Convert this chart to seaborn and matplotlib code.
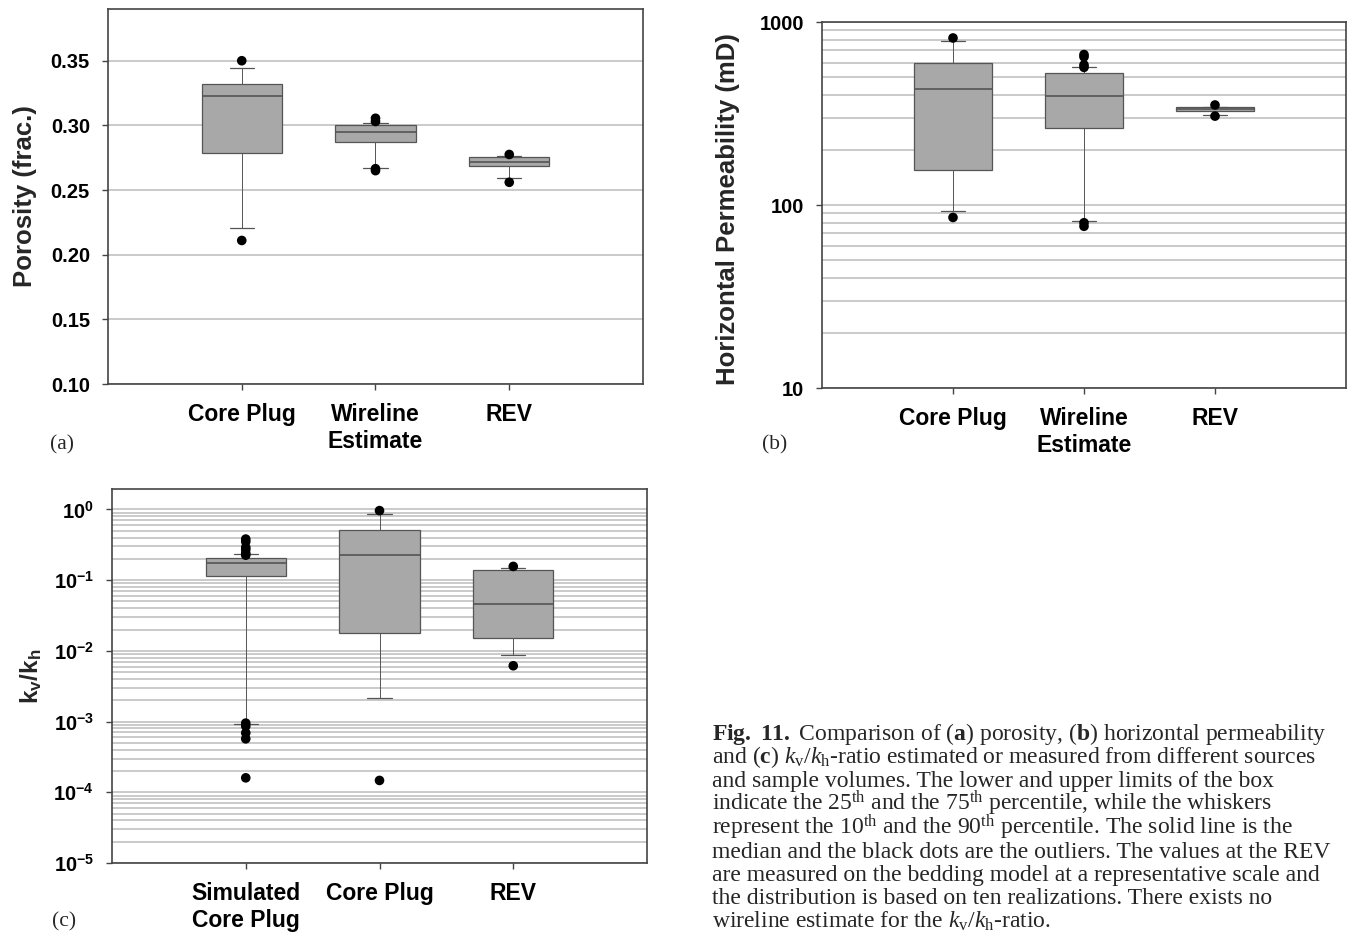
import numpy as np
import pandas as pd
import matplotlib
matplotlib.use("Agg")
import matplotlib.pyplot as plt
import matplotlib.ticker as mticker
import seaborn as sns

sns.set_theme(style="white")
plt.rcParams["font.family"] = ["Liberation Sans", "DejaVu Sans"]
plt.rcParams["font.weight"] = "bold"
plt.rcParams["axes.labelweight"] = "bold"
plt.rcParams["mathtext.fontset"] = "custom"
plt.rcParams["mathtext.rm"] = "Liberation Serif:weight=normal"
plt.rcParams["mathtext.it"] = "Liberation Serif:style=italic:weight=normal"
plt.rcParams["mathtext.bf"] = "Liberation Serif:weight=bold"
plt.rcParams["mathtext.sf"] = "Liberation Sans:weight=bold"

# ------------------------------------------------------------------
# Data: 10th / 25th / 50th / 75th / 90th pct + outliers
# ------------------------------------------------------------------
por_groups = ["Core Plug", "Wireline\nEstimate", "REV"]
por_p10 = [0.221, 0.267, 0.259]
por_p25 = [0.279, 0.2875, 0.2685]
por_med = [0.323, 0.295, 0.272]
por_p75 = [0.332, 0.3005, 0.2755]
por_p90 = [0.3445, 0.302, 0.276]
por_out = [[0.350, 0.211], [0.3055, 0.303, 0.2665, 0.265], [0.2775, 0.256]]

perm_groups = ["Core Plug", "Wireline\nEstimate", "REV"]
perm_p10 = [92.7, 81.3, 310]
perm_p25 = [155, 264, 326]
perm_med = [433, 395, 334]
perm_p75 = [600, 527, 343]
perm_p90 = [791, 571, 345]
perm_out = [[818, 85.5], [664, 645, 583, 565, 80, 76.5], [352, 306]]

kvkh_groups = ["Simulated\nCore Plug", "Core Plug", "REV"]
kvkh_p10 = [9.2e-4, 2.13e-3, 8.8e-3]
kvkh_p25 = [0.116, 0.018, 0.015]
kvkh_med = [0.175, 0.224, 0.046]
kvkh_p75 = [0.208, 0.516, 0.138]
kvkh_p90 = [0.237, 0.87, 0.149]
kvkh_out = [[0.38, 0.35, 0.29, 0.27, 0.24, 0.225, 9.5e-4, 8.6e-4, 6.9e-4, 5.7e-4, 1.6e-4],
            [0.96, 1.47e-4],
            [0.156, 6.15e-3]]

caption = [
    r"$\mathbf{Fig.}$ $\mathbf{11.}$ Comparison of ($\mathbf{a}$) porosity, ($\mathbf{b}$) horizontal permeability",
    r"and ($\mathbf{c}$) $k_{\mathrm{v}}/k_{\mathrm{h}}$-ratio estimated or measured from different sources",
    "and sample volumes. The lower and upper limits of the box",
    r"indicate the 25$^{\mathrm{th}}$ and the 75$^{\mathrm{th}}$ percentile, while the whiskers",
    r"represent the 10$^{\mathrm{th}}$ and the 90$^{\mathrm{th}}$ percentile. The solid line is the",
    "median and the black dots are the outliers. The values at the REV",
    "are measured on the bedding model at a representative scale and",
    "the distribution is based on ten realizations. There exists no",
    r"wireline estimate for the $k_{\mathrm{v}}/k_{\mathrm{h}}$-ratio.",
]

W, H = 1351, 936
EDGE = "#555555"
GRID = "#c6c6c6"


def px_axes(fig, left, top, right, bottom):
    return fig.add_axes([left / W, 1 - bottom / H, (right - left) / W, (bottom - top) / H])


def draw_panel(ax, groups, p10, p25, med, p75, p90, outliers):
    stats = [dict(whislo=lo, q1=a, med=m, q3=b, whishi=hi, label=g)
             for g, lo, a, m, b, hi in zip(groups, p10, p25, med, p75, p90)]
    ax.bxp(stats, positions=[1, 2, 3], widths=0.6, capwidths=0.18,
           showfliers=False, patch_artist=True,
           boxprops=dict(facecolor="#a8a8a8", edgecolor=EDGE, linewidth=0.9),
           medianprops=dict(color=EDGE, linewidth=1.2),
           whiskerprops=dict(color=EDGE, linewidth=0.7),
           capprops=dict(color=EDGE, linewidth=0.9),
           zorder=3)
    pts = pd.DataFrame([(i + 1, v) for i, vals in enumerate(outliers) for v in vals],
                       columns=["pos", "value"])
    sns.scatterplot(data=pts, x="pos", y="value", color="black", s=48,
                    edgecolor="none", ax=ax, zorder=5, legend=False)
    ax.set_xlim(0, 4)
    ax.set_xticks([1, 2, 3])
    ax.set_xticklabels(groups)
    ax.set_xlabel("")
    for s in ax.spines.values():
        s.set_color("#444444")
        s.set_linewidth(1.2)
    ax.tick_params(axis="both", which="major", bottom=True, left=True, direction="out",
                   length=4, width=1, color="#444444", labelcolor="black")
    ax.tick_params(axis="x", pad=10, labelsize=16.5)
    ax.tick_params(axis="y", pad=9, labelsize=14.5)
    ax.tick_params(which="minor", length=0)
    ax.set_axisbelow(True)


fig = plt.figure(figsize=(W / 100, H / 100), dpi=100)

# (a) porosity
ax_a = px_axes(fig, 108, 9, 643, 384)
draw_panel(ax_a, por_groups, por_p10, por_p25, por_med, por_p75, por_p90, por_out)
ax_a.set_ylim(0.10, 0.39)
ax_a.set_yticks([0.10, 0.15, 0.20, 0.25, 0.30, 0.35])
ax_a.yaxis.set_major_formatter(mticker.FormatStrFormatter("%.2f"))
ax_a.yaxis.grid(True, color=GRID, linewidth=1.3)
ax_a.set_ylabel("Porosity (frac.)", fontsize=18.5)
ax_a.yaxis.set_label_coords(-0.133, 0.5)

# (b) horizontal permeability
ax_b = px_axes(fig, 822, 22, 1346, 388)
ax_b.set_yscale("log")
draw_panel(ax_b, perm_groups, perm_p10, perm_p25, perm_med, perm_p75, perm_p90, perm_out)
ax_b.set_ylim(10, 1000)
ax_b.yaxis.set_major_locator(mticker.FixedLocator([10, 100, 1000]))
ax_b.yaxis.set_major_formatter(mticker.FixedFormatter(["10", "100", "1000"]))
ax_b.yaxis.set_minor_locator(mticker.LogLocator(base=10, subs=np.arange(2, 10)))
ax_b.yaxis.grid(True, which="both", color=GRID, linewidth=1.3)
ax_b.set_ylabel("Horizontal Permeability (mD)", fontsize=18.5)
ax_b.yaxis.set_label_coords(-0.157, 0.49)

# (c) kv/kh
ax_c = px_axes(fig, 112, 489, 647, 863)
ax_c.set_yscale("log")
draw_panel(ax_c, kvkh_groups, kvkh_p10, kvkh_p25, kvkh_med, kvkh_p75, kvkh_p90, kvkh_out)
ax_c.set_ylim(1e-5, 1.94)
exps = [-5, -4, -3, -2, -1, 0]
ax_c.yaxis.set_major_locator(mticker.FixedLocator([10.0 ** e for e in exps]))
ax_c.yaxis.set_major_formatter(mticker.FixedFormatter([r"$\mathsf{10^{%d}}$" % e for e in exps]))
ax_c.yaxis.set_minor_locator(mticker.LogLocator(base=10, subs=np.arange(2, 10)))
ax_c.yaxis.grid(True, which="both", color=GRID, linewidth=1.3)
ax_c.set_ylabel(r"$\mathsf{k_v/k_h}$", fontsize=17.5)
ax_c.yaxis.set_label_coords(-0.127, 0.5)

# panel letters
for txt, x, y in [("(a)", 50, 449), ("(b)", 762, 449), ("(c)", 52, 926)]:
    fig.text(x / W, 1 - y / H, txt, family="Liberation Serif", fontweight="normal",
             fontsize=15.5, va="baseline", ha="left")

# caption
for i, line in enumerate(caption):
    fig.text(712 / W, 1 - (740 + 23.5 * i) / H, line, family="Liberation Serif",
             fontweight="normal", fontsize=17, va="baseline", ha="left")

fig.savefig("out.png", dpi=100)
